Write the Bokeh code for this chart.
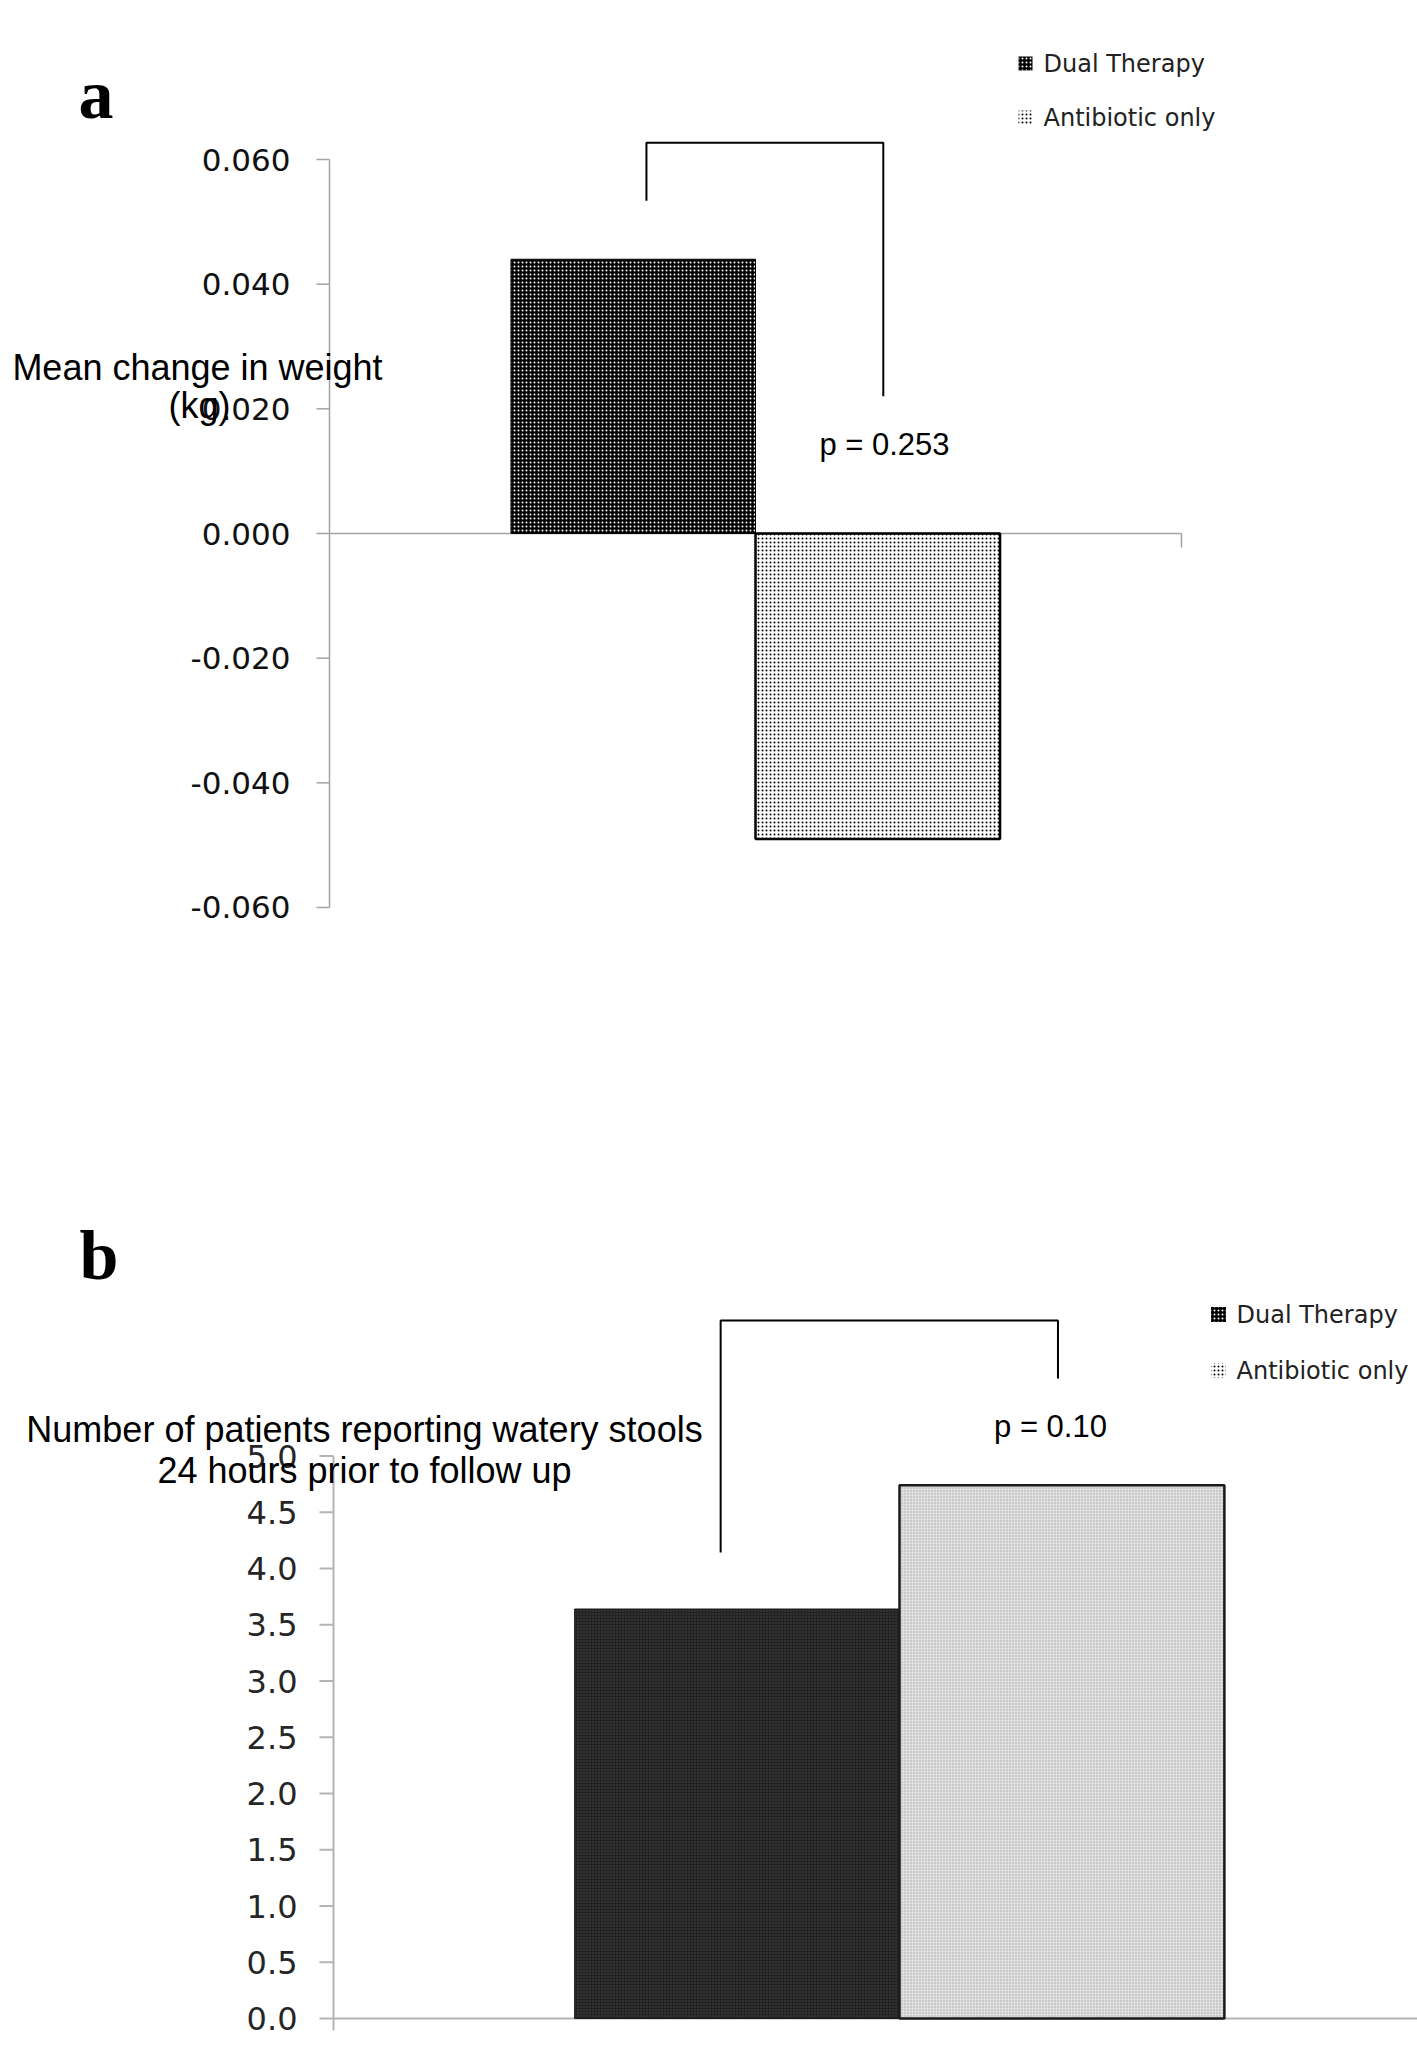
from bokeh.plotting import figure
from bokeh.models import Range1d, Label, ColumnDataSource
from bokeh.layouts import column
from bokeh.embed import file_html
from bokeh.resources import INLINE
from bokeh.core.properties import value

# ---------------- data ----------------
groups = ["Dual Therapy", "Antibiotic only"]
weight_change = [0.044, -0.049]          # panel a, mean change in weight (kg)
watery_stools = [3.64, 4.74]             # panel b, patients reporting watery stools
weight_ticks = [-0.06, -0.04, -0.02, 0.0, 0.02, 0.04, 0.06]
stool_ticks = [0.0, 0.5, 1.0, 1.5, 2.0, 2.5, 3.0, 3.5, 4.0, 4.5, 5.0]
weight_tick_labels = [f"{t:.3f}" for t in weight_ticks]
stool_tick_labels = [f"{t:.1f}" for t in stool_ticks]
p_text_a = "p = 0.253"
p_text_b = "p = 0.10"
ylabel_a = ["Mean change in weight", "(kg)"]
ylabel_b = ["Number of patients reporting watery stools", "24 hours prior to follow up"]
bracket_a_x = [0.372, 0.372, 0.650, 0.650]
bracket_a_y = [0.0534, 0.0627, 0.0627, 0.0220]
bracket_b_x = [0.342, 0.342, 0.640, 0.640]
bracket_b_y = [4.142, 6.204, 6.204, 5.689]

# ---------------- geometry ----------------
CAT_CENTER = 0.5
BAR_W = 0.287
bar_x = [CAT_CENTER - BAR_W / 2, CAT_CENTER + BAR_W / 2]

W = 1417
HA = 1000
HB = 1047

# panel a: category axis spans 852 px starting at x=329; 0 at y=533, 6233 px per kg
def ax_a(px):
    return (px - 329) / 852.0
def ay_a(py):
    return (533 - py) / 6233.2
# panel b: category axis spans 1132 px starting at x=333; 0 at y=2018, 112.5 px per unit
def ax_b(px):
    return (px - 333) / 1132.0
def ay_b(py):
    return (2018 - py) / 112.5

SANS = "Liberation Sans"
SERIF = "Liberation Serif"


def make_fig(xr, yr, h):
    p = figure(width=W, height=h, x_range=Range1d(*xr), y_range=Range1d(*yr),
               output_backend="svg", toolbar_location=None, title=None,
               x_axis_type=None, y_axis_type=None,
               min_border_left=0, min_border_right=0, min_border_top=0, min_border_bottom=0)
    p.outline_line_color = None
    p.background_fill_color = "white"
    p.border_fill_color = "white"
    return p


def y_axis(p, ticks, labels, x0, tick_len, gap, color, lw, font_size, text_color):
    n = len(ticks)
    p.segment(x0=[x0], y0=[min(ticks)], x1=[x0], y1=[max(ticks)], line_color=color, line_width=lw)
    p.segment(x0=[x0 - tick_len] * n, y0=ticks, x1=[x0] * n, y1=ticks, line_color=color, line_width=lw)
    p.text(x=[x0 - gap] * n, y=ticks, text=labels, text_align="right", text_baseline="middle",
           text_font=value("DejaVu Sans"), text_font_size=font_size, text_color=text_color)


def label(p, fx, fy, px, baseline_py, text, font, size, align="left", bold=False):
    # Label is anchored at the bottom of its text box: move down by the font descent
    descent = 0.215 * size
    p.add_layout(Label(x=fx(px), y=fy(baseline_py + descent), text=text, text_font=font,
                       text_font_size=f"{size}px",
                       text_font_style="bold" if bold else "normal",
                       text_align=align, text_baseline="bottom", text_color="black"))


# ---------------- panel a ----------------
pa = make_fig((ax_a(0), ax_a(W)), (ay_a(HA), ay_a(0)), HA)
GRAY_A = "#a3a3a3"
y_axis(pa, weight_ticks, weight_tick_labels, 0.0, 13 / 852, 39 / 852, GRAY_A, 1.5, "31px", "#111111")
# category (zero) axis with end tick
pa.segment(x0=[0], y0=[0], x1=[1], y1=[0], line_color=GRAY_A, line_width=1.5)
pa.segment(x0=[1], y0=[0], x1=[1], y1=[ay_a(547)], line_color=GRAY_A, line_width=1.5)

src_a = ColumnDataSource(dict(x=bar_x, top=weight_change, group=groups,
                              fill=["#000000", "#ffffff"], hatch=["white", "black"],
                              lw=[1.0, 2.5]))
pa.vbar(x="x", top="top", bottom=0, width=BAR_W, source=src_a,
        fill_color="fill", line_color="#000000", line_width="lw",
        hatch_pattern="dot", hatch_color="hatch", hatch_scale=4, hatch_weight=1.2)

pa.line(x=bracket_a_x, y=bracket_a_y, line_color="black", line_width=2)

leg_a_y = [ay_a(63), ay_a(117)]
pa.scatter(x=[ax_a(1025)] * 2, y=leg_a_y, marker="square", size=14,
           fill_color=["#000000", "#ffffff"], line_color=[None, None],
           hatch_pattern="dot", hatch_color=["white", "black"], hatch_scale=4, hatch_weight=1.5)
pa.text(x=[ax_a(1043)] * 2, y=leg_a_y, text=groups, text_font=value("DejaVu Sans"),
        text_font_size="24px", text_baseline="middle", text_align="left", text_color="#222222")

label(pa, ax_a, ay_a, 78, 117, "a", SERIF, 70, bold=True)
label(pa, ax_a, ay_a, 197, 380, ylabel_a[0], SANS, 36, align="center")
label(pa, ax_a, ay_a, 199, 418, ylabel_a[1], SANS, 36, align="center")
label(pa, ax_a, ay_a, 884, 455, p_text_a, SANS, 31, align="center")

# ---------------- panel b ----------------
pb = make_fig((ax_b(0), ax_b(W)), (ay_b(HA + HB), ay_b(HA)), HB)
GRAY_B = "#b4b4b4"
y_axis(pb, stool_ticks, stool_tick_labels, 0.0, 14 / 1132, 36 / 1132, GRAY_B, 2, "32px", "#262626")
pb.segment(x0=[0], y0=[0], x1=[ax_b(W)], y1=[0], line_color=GRAY_B, line_width=2)
pb.segment(x0=[0], y0=[0], x1=[0], y1=[ay_b(2030)], line_color=GRAY_B, line_width=2)

src_b = ColumnDataSource(dict(x=bar_x, top=watery_stools, group=groups,
                              fill=["#222222", "#e0e0e0"], hatch=["#4a4a4a", "#a8a8a8"],
                              line=["#1a1a1a", "#1a1a1a"], lw=[1.0, 2.5]))
pb.vbar(x="x", top="top", bottom=0, width=BAR_W, source=src_b,
        fill_color="fill", line_color="line", line_width="lw",
        hatch_pattern="dot", hatch_color="hatch", hatch_scale=3, hatch_weight=1.0)

pb.line(x=bracket_b_x, y=bracket_b_y, line_color="black", line_width=2)

leg_b_y = [ay_b(1314), ay_b(1370)]
pb.scatter(x=[ax_b(1218)] * 2, y=leg_b_y, marker="square", size=15,
           fill_color=["#000000", "#ffffff"], line_color=[None, None],
           hatch_pattern="dot", hatch_color=["white", "black"], hatch_scale=4, hatch_weight=1.5)
pb.text(x=[ax_b(1236)] * 2, y=leg_b_y, text=groups, text_font=value("DejaVu Sans"),
        text_font_size="24px", text_baseline="middle", text_align="left", text_color="#222222")

label(pb, ax_b, ay_b, 79, 1278, "b", SERIF, 70, bold=True)
label(pb, ax_b, ay_b, 364, 1442, ylabel_b[0], SANS, 36, align="center")
label(pb, ax_b, ay_b, 364, 1483, ylabel_b[1], SANS, 36, align="center")
label(pb, ax_b, ay_b, 1050, 1437, p_text_b, SANS, 31, align="center")

layout = column(pa, pb)
open("out.html", "w").write(file_html(layout, INLINE))
